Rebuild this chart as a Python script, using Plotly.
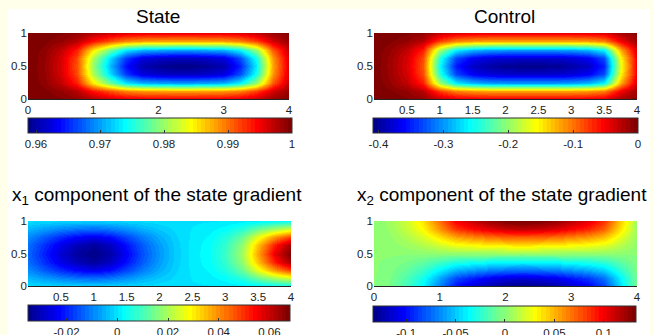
import plotly.graph_objects as go

W, H = 654, 335

x_grid = [0, 0.25, 0.5, 0.75, 1.0, 1.25, 1.5, 1.75, 2.0, 2.25, 2.5, 2.75, 3.0, 3.25, 3.5, 3.75, 4.0]
y_grid = [0, 0.125, 0.25, 0.375, 0.5, 0.625, 0.75, 0.875, 1.0]

state_z = [
    [1.0, 0.9999, 0.9995, 0.9989, 0.9976, 0.9965, 0.9957, 0.9953, 0.9952, 0.9952, 0.9952, 0.9952, 0.9953, 0.9958, 0.9968, 0.9986, 0.9995],
    [1.0, 0.9996, 0.9988, 0.9974, 0.9940, 0.9914, 0.9892, 0.9884, 0.9881, 0.9880, 0.9880, 0.9881, 0.9884, 0.9894, 0.9920, 0.9964, 0.9988],
    [1.0, 0.9991, 0.9970, 0.9934, 0.9850, 0.9784, 0.9730, 0.9709, 0.9703, 0.9700, 0.9700, 0.9703, 0.9709, 0.9736, 0.9799, 0.9910, 0.9970],
    [1.0, 0.9989, 0.9962, 0.9916, 0.9810, 0.9726, 0.9658, 0.9624, 0.9614, 0.9610, 0.9610, 0.9614, 0.9624, 0.9666, 0.9745, 0.9886, 0.9962],
    [1.0, 0.9988, 0.9960, 0.9912, 0.9800, 0.9712, 0.9640, 0.9605, 0.9594, 0.9588, 0.9588, 0.9594, 0.9605, 0.9648, 0.9732, 0.9880, 0.9960],
    [1.0, 0.9989, 0.9962, 0.9916, 0.9810, 0.9726, 0.9658, 0.9624, 0.9614, 0.9610, 0.9610, 0.9614, 0.9624, 0.9666, 0.9745, 0.9886, 0.9962],
    [1.0, 0.9991, 0.9970, 0.9934, 0.9850, 0.9784, 0.9730, 0.9709, 0.9703, 0.9700, 0.9700, 0.9703, 0.9709, 0.9736, 0.9799, 0.9910, 0.9970],
    [1.0, 0.9996, 0.9988, 0.9974, 0.9940, 0.9914, 0.9892, 0.9884, 0.9881, 0.9880, 0.9880, 0.9881, 0.9884, 0.9894, 0.9920, 0.9964, 0.9988],
    [1.0, 0.9999, 0.9995, 0.9989, 0.9976, 0.9965, 0.9957, 0.9953, 0.9952, 0.9952, 0.9952, 0.9952, 0.9953, 0.9958, 0.9968, 0.9986, 0.9995],
]

control_z = [
    [0, -0.0019, -0.0048, -0.0106, -0.0312, -0.0422, -0.0461, -0.0475, -0.048, -0.048, -0.048, -0.048, -0.0475, -0.0461, -0.0418, -0.0192, -0.0058],
    [0, -0.0048, -0.012, -0.0264, -0.078, -0.1056, -0.1152, -0.1188, -0.12, -0.12, -0.12, -0.12, -0.1188, -0.1152, -0.1044, -0.048, -0.0144],
    [0, -0.012, -0.03, -0.066, -0.195, -0.264, -0.288, -0.297, -0.3, -0.3, -0.3, -0.3, -0.297, -0.288, -0.261, -0.12, -0.036],
    [0, -0.0152, -0.038, -0.0836, -0.247, -0.3344, -0.3648, -0.3762, -0.38, -0.38, -0.38, -0.38, -0.3762, -0.3648, -0.3306, -0.152, -0.0456],
    [0, -0.016, -0.04, -0.088, -0.26, -0.352, -0.384, -0.396, -0.404, -0.406, -0.406, -0.404, -0.396, -0.384, -0.348, -0.16, -0.048],
    [0, -0.0152, -0.038, -0.0836, -0.247, -0.3344, -0.3648, -0.3762, -0.38, -0.38, -0.38, -0.38, -0.3762, -0.3648, -0.3306, -0.152, -0.0456],
    [0, -0.012, -0.03, -0.066, -0.195, -0.264, -0.288, -0.297, -0.3, -0.3, -0.3, -0.3, -0.297, -0.288, -0.261, -0.12, -0.036],
    [0, -0.0048, -0.012, -0.0264, -0.078, -0.1056, -0.1152, -0.1188, -0.12, -0.12, -0.12, -0.12, -0.1188, -0.1152, -0.1044, -0.048, -0.0144],
    [0, -0.0019, -0.0048, -0.0106, -0.0312, -0.0422, -0.0461, -0.0475, -0.048, -0.048, -0.048, -0.048, -0.0475, -0.0461, -0.0418, -0.0192, -0.0058],
]

grad_x1_z = [
    [-0.0006, -0.0010, -0.0014, -0.0016, -0.0018, -0.0016, -0.0012, -0.0007, -0.0004, -0.0001, 0.0001, 0.0002, 0.0004, 0.0009, 0.0019, 0.0028, 0.0035],
    [-0.0045, -0.0071, -0.0097, -0.0115, -0.0126, -0.0111, -0.0082, -0.0052, -0.0026, -0.0008, 0.0004, 0.0011, 0.0029, 0.0066, 0.0133, 0.0199, 0.0244],
    [-0.0090, -0.0141, -0.0193, -0.0230, -0.0252, -0.0223, -0.0163, -0.0104, -0.0053, -0.0015, 0.0007, 0.0022, 0.0059, 0.0132, 0.0265, 0.0398, 0.0487],
    [-0.0118, -0.0186, -0.0254, -0.0302, -0.0331, -0.0293, -0.0214, -0.0137, -0.0069, -0.0020, 0.0009, 0.0029, 0.0077, 0.0174, 0.0349, 0.0523, 0.0640],
    [-0.0128, -0.0202, -0.0276, -0.0328, -0.0350, -0.0318, -0.0233, -0.0149, -0.0075, -0.0022, 0.0010, 0.0031, 0.0084, 0.0189, 0.0379, 0.0569, 0.0680],
    [-0.0118, -0.0186, -0.0254, -0.0302, -0.0331, -0.0293, -0.0214, -0.0137, -0.0069, -0.0020, 0.0009, 0.0029, 0.0077, 0.0174, 0.0349, 0.0523, 0.0640],
    [-0.0090, -0.0141, -0.0193, -0.0230, -0.0252, -0.0223, -0.0163, -0.0104, -0.0053, -0.0015, 0.0007, 0.0022, 0.0059, 0.0132, 0.0265, 0.0398, 0.0487],
    [-0.0045, -0.0071, -0.0097, -0.0115, -0.0126, -0.0111, -0.0082, -0.0052, -0.0026, -0.0008, 0.0004, 0.0011, 0.0029, 0.0066, 0.0133, 0.0199, 0.0244],
    [-0.0006, -0.0010, -0.0014, -0.0016, -0.0018, -0.0016, -0.0012, -0.0007, -0.0004, -0.0001, 0.0001, 0.0002, 0.0004, 0.0009, 0.0019, 0.0028, 0.0035],
]

grad_x2_z = [
    [0, -0.0053, -0.0187, -0.0374, -0.0694, -0.0988, -0.1121, -0.1228, -0.1308, -0.1330, -0.1308, -0.1255, -0.1148, -0.1041, -0.0854, -0.0427, -0.0053],
    [0, -0.0045, -0.0159, -0.0318, -0.0590, -0.0840, -0.0953, -0.1044, -0.1112, -0.1135, -0.1112, -0.1067, -0.0976, -0.0885, -0.0726, -0.0363, -0.0045],
    [0, -0.0029, -0.0103, -0.0206, -0.0382, -0.0543, -0.0617, -0.0675, -0.0719, -0.0734, -0.0719, -0.0690, -0.0631, -0.0573, -0.0470, -0.0235, -0.0029],
    [0, -0.0015, -0.0052, -0.0105, -0.0194, -0.0277, -0.0314, -0.0344, -0.0366, -0.0374, -0.0366, -0.0351, -0.0321, -0.0291, -0.0239, -0.0120, -0.0015],
    [0, 0, 0, 0, 0, 0, 0, 0, 0, 0, 0, 0, 0, 0, 0, 0, 0],
    [0, 0.0015, 0.0052, 0.0105, 0.0194, 0.0277, 0.0314, 0.0344, 0.0366, 0.0374, 0.0366, 0.0351, 0.0321, 0.0291, 0.0239, 0.0120, 0.0015],
    [0, 0.0029, 0.0103, 0.0206, 0.0382, 0.0543, 0.0617, 0.0675, 0.0719, 0.0734, 0.0719, 0.0690, 0.0631, 0.0573, 0.0470, 0.0235, 0.0029],
    [0, 0.0045, 0.0159, 0.0318, 0.0590, 0.0840, 0.0953, 0.1044, 0.1112, 0.1135, 0.1112, 0.1067, 0.0976, 0.0885, 0.0726, 0.0363, 0.0045],
    [0, 0.0053, 0.0187, 0.0374, 0.0694, 0.0988, 0.1121, 0.1228, 0.1308, 0.1330, 0.1308, 0.1255, 0.1148, 0.1041, 0.0854, 0.0427, 0.0053],
]

titles = ["State", "Control",
          "x<sub>1</sub> component of the state gradient",
          "x<sub>2</sub> component of the state gradient"]
z_ranges = [(0.95875, 1.0), (-0.4085, 0.0), (-0.0352, 0.0681), (-0.1335, 0.1325)]
cb_ticks = [
    ([0.96, 0.97, 0.98, 0.99, 1.0], ["0.96", "0.97", "0.98", "0.99", "1"]),
    ([-0.4, -0.3, -0.2, -0.1, 0.0], ["-0.4", "-0.3", "-0.2", "-0.1", "0"]),
    ([-0.02, 0, 0.02, 0.04, 0.06], ["-0.02", "0", "0.02", "0.04", "0.06"]),
    ([-0.1, -0.05, 0, 0.05, 0.1], ["-0.1", "-0.05", "0", "0.05", "0.1"]),
]
x_ticks = [
    ([0, 1, 2, 3, 4], ["0", "1", "2", "3", "4"]),
    ([0.5, 1, 1.5, 2, 2.5, 3, 3.5, 4], ["0.5", "1", "1.5", "2", "2.5", "3", "3.5", "4"]),
    ([0.5, 1, 1.5, 2, 2.5, 3, 3.5, 4], ["0.5", "1", "1.5", "2", "2.5", "3", "3.5", "4"]),
    ([0, 1, 2, 3, 4], ["0", "1", "2", "3", "4"]),
]
y_ticks = ([0, 0.5, 1], ["0", "0.5", "1"])
fields = [state_z, control_z, grad_x1_z, grad_x2_z]

# MATLAB-like jet(64), stepped
def jet_color(t):
    r = min(max(1.5 - abs(4 * t - 3), 0), 1)
    g = min(max(1.5 - abs(4 * t - 2), 0), 1)
    b = min(max(1.5 - abs(4 * t - 1), 0), 1)
    return "rgb(%d,%d,%d)" % (round(r * 255), round(g * 255), round(b * 255))

N = 64
jet = []
for i in range(N):
    c = jet_color((i + 1) / N)
    jet.append([i / N, c])
    jet.append([(i + 1) / N, c])

# pixel layout: axes boxes (left, right, top, bottom) and colorbars (left, right, top, thickness)
axes_px = [(28, 289, 33, 99), (374, 637, 33, 99), (28, 291, 221, 286), (374, 637, 221, 286)]
cbar_px = [(28, 292, 118, 15), (373, 638, 118, 15), (28, 290, 305, 16), (373, 636, 306, 16)]
title_px = [(158, 16), (504, 16), (157, 196), (502, 196)]

FONT = "Liberation Sans, Arial, sans-serif"
fig = go.Figure()
layout_axes = {}
for k in range(4):
    l, r, t, b = axes_px[k]
    cl, cr, ct, th = cbar_px[k]
    zmin, zmax = z_ranges[k]
    xa = "x" if k == 0 else "x%d" % (k + 1)
    ya = "y" if k == 0 else "y%d" % (k + 1)
    fig.add_trace(go.Heatmap(
        x=x_grid, y=y_grid, z=fields[k], zsmooth="best",
        colorscale=jet, zmin=zmin, zmax=zmax, xaxis=xa, yaxis=ya,
        colorbar=dict(
            orientation="h", x=(cl + cr) / 2 / W, xanchor="center",
            y=1 - ct / H, yanchor="top", len=cr - cl, lenmode="pixels",
            thickness=th, thicknessmode="pixels", xpad=0, ypad=0,
            outlinewidth=1, outlinecolor="#333333",
            tickvals=cb_ticks[k][0], ticktext=cb_ticks[k][1],
            ticks="inside", ticklen=3, tickcolor="#333333",
            tickfont=dict(family=FONT, size=11.5, color="#222222"),
        ),
    ))
    xkey = "xaxis" if k == 0 else "xaxis%d" % (k + 1)
    ykey = "yaxis" if k == 0 else "yaxis%d" % (k + 1)
    layout_axes[xkey] = dict(
        domain=[l / W, r / W], range=[0, 4], anchor=ya,
        tickvals=x_ticks[k][0], ticktext=x_ticks[k][1],
        showline=True, linecolor="#222222", linewidth=1, mirror=False,
        ticks="", showgrid=False, zeroline=False, automargin=False,
        tickfont=dict(family=FONT, size=11.5, color="#222222"),
    )
    layout_axes[ykey] = dict(
        domain=[1 - b / H, 1 - t / H], range=[0, 1], anchor=xa,
        tickvals=y_ticks[0], ticktext=y_ticks[1], automargin=False,
        showline=False, ticks="", showgrid=False, zeroline=False,
        tickfont=dict(family=FONT, size=11.5, color="#222222"),
    )

annotations = []
for k in range(4):
    tx, ty = title_px[k]
    annotations.append(dict(
        text=titles[k], x=tx / W, y=1 - ty / H, xref="paper", yref="paper",
        xanchor="center", yanchor="middle", showarrow=False,
        font=dict(family=FONT, size=19, color="#000000"),
    ))

fig.update_layout(
    width=W, height=H, margin=dict(l=0, r=0, t=0, b=0, autoexpand=False),
    paper_bgcolor="#FFFFEA", plot_bgcolor="white",
    showlegend=False, annotations=annotations,
    shapes=[dict(type="rect", xref="paper", yref="paper",
                 x0=8 / W, x1=650 / W, y0=0, y1=1 - 9 / H,
                 fillcolor="white", line=dict(width=0), layer="below")],
    **layout_axes,
)
fig.write_html("out.html", config={"displayModeBar": False},
               post_script="document.body.style.margin='0';document.body.style.overflow='hidden';")
